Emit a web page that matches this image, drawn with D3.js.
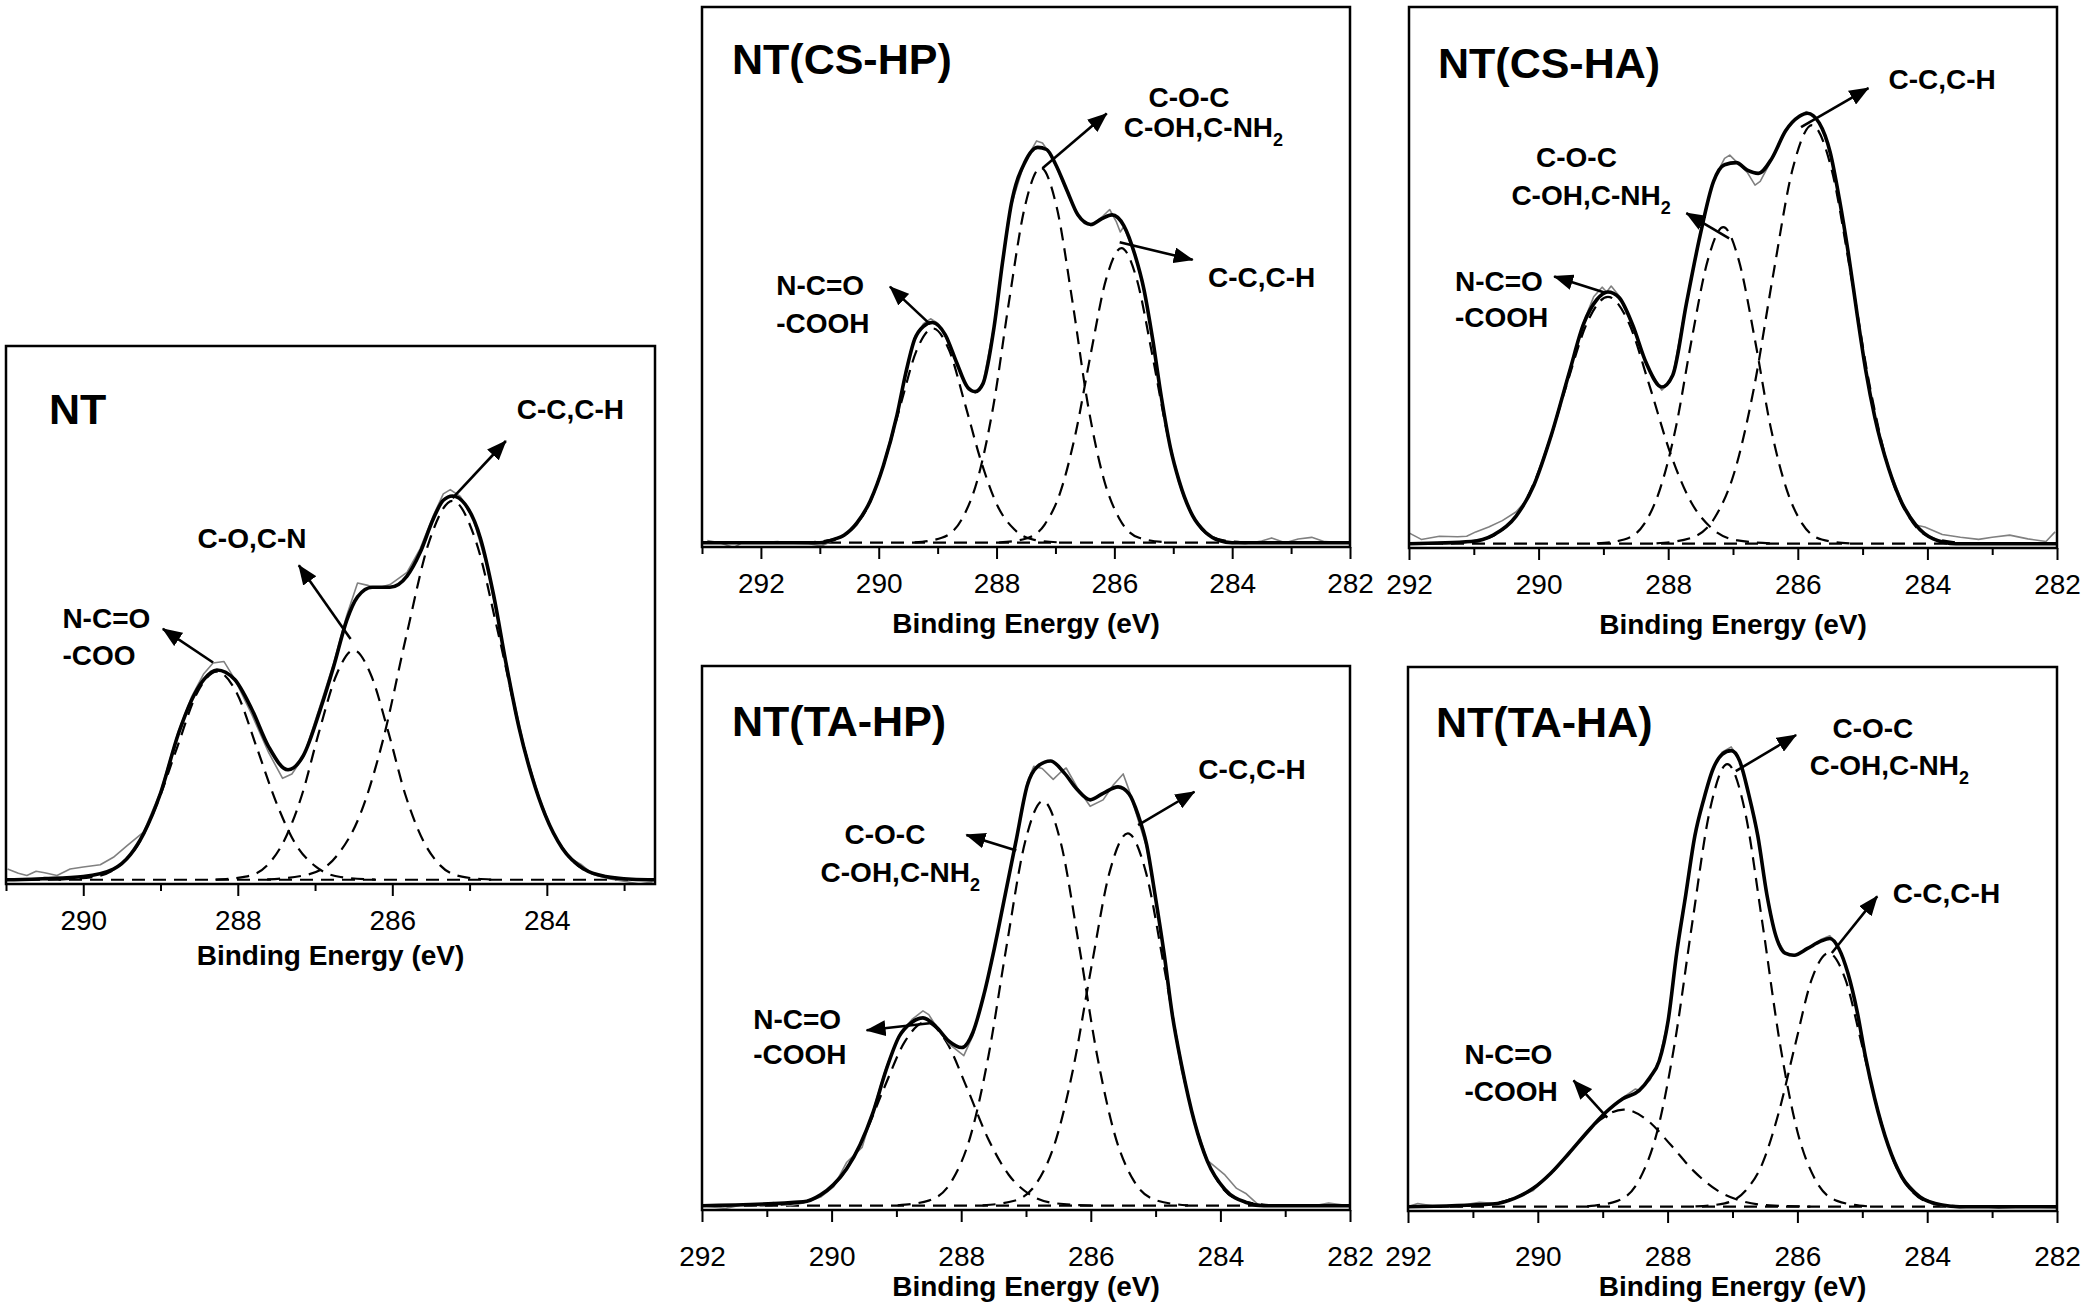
<!DOCTYPE html>
<html><head><meta charset="utf-8">
<script src="https://cdn.jsdelivr.net/npm/d3@7"></script>
<style>
html,body{margin:0;padding:0;background:#fff;}
svg{display:block;}
text{font-family:"Liberation Sans",Arial,Helvetica,sans-serif;fill:#000;}
</style></head><body>
<svg id="chart" width="2085" height="1306"></svg>
<script>
// ---------- DATA (binding energy in eV, intensity in % of panel height) ----------
const panelTitles = ["NT", "NT(CS-HP)", "NT(CS-HA)", "NT(TA-HP)", "NT(TA-HA)"];
const axisTitle = "Binding Energy (eV)";
const ticksNT = [290, 288, 286, 284];
const minorNT = [291, 289, 287, 285, 283];
const ticksWide = [292, 290, 288, 286, 284, 282];
const minorCSHP = [293, 291, 289, 287, 285, 283];
const minorWide = [291, 289, 287, 285, 283];

// NT
const NT_fit = [[291,0],[290.98,0],[290.5,0.2],[290.0,0.6],[289.61,2.0],[289.39,4.7],[289.22,8.6],[289.0,16.2],[288.77,27.3],[288.6,33.6],[288.44,37.5],[288.27,39.3],[288.04,37.5],[287.82,32.0],[287.6,24.9],[287.35,20.6],[287.15,23.3],[286.93,32.0],[286.76,39.9],[286.59,48.6],[286.45,53.0],[286.26,54.8],[286.03,54.8],[285.81,56.9],[285.64,61.3],[285.47,67.6],[285.34,71.1],[285.22,71.9],[285.06,70.4],[284.86,64.0],[284.69,53.4],[284.53,40.7],[284.36,28.5],[284.19,19.2],[284.02,12.1],[283.8,5.9],[283.52,2.0],[283.24,0.6],[282.9,0.1],[282.6,0]];
const NT_raw = [[290.98,2.0],[290.84,1.2],[290.73,0.8],[290.61,1.6],[290.5,1.3],[290.34,0.8],[290.17,2.0],[290.0,2.4],[289.78,2.8],[289.61,4.2],[289.44,6.3],[289.22,8.9],[289.0,16.5],[288.77,27.8],[288.6,34.2],[288.44,38.6],[288.32,40.6],[288.18,40.9],[288.04,37.6],[287.82,31.0],[287.6,23.8],[287.42,19.0],[287.3,19.8],[287.15,23.0],[286.93,32.8],[286.76,40.5],[286.59,49.5],[286.45,55.6],[286.33,55.2],[286.2,54.6],[286.03,55.3],[285.81,57.6],[285.64,62.0],[285.47,68.2],[285.34,72.3],[285.25,73.1],[285.12,71.8],[284.95,67.5],[284.78,59.0],[284.61,47.0],[284.44,34.5],[284.27,23.5],[284.1,15.5],[283.92,8.8],[283.72,4.2],[283.55,2.8],[283.4,1.0],[283.2,0.2],[283.0,-0.3],[282.8,-0.8],[282.63,-0.4]];
const NT_p1 = [[286.22,0.03],[286.67,0.51],[286.99,2.44],[287.25,6.63],[287.5,14.4],[287.76,25.0],[288.01,34.9],[288.27,39],[288.53,34.9],[288.78,25.0],[289.04,14.4],[289.29,6.63],[289.55,2.44],[289.87,0.51],[290.32,0.03]];
const NT_p2 = [[284.71,0.03],[285.1,0.57],[285.38,2.69],[285.6,7.31],[285.83,15.87],[286.05,27.6],[286.28,38.5],[286.5,43],[286.72,38.5],[286.95,27.6],[287.17,15.87],[287.4,7.31],[287.62,2.69],[287.9,0.57],[288.29,0.03]];
const NT_p3 = [[282.82,0.06],[283.35,0.94],[283.72,4.44],[284.02,12.07],[284.32,26.2],[284.62,45.6],[284.92,63.5],[285.22,71],[285.52,63.5],[285.82,45.6],[286.12,26.2],[286.42,12.07],[286.72,4.44],[287.1,0.94],[287.62,0.06]];
const NT_labels = [{lines:["C-C,C-H"], e:284.39, v:[86.3]}, {lines:["C-O,C-N"], e:288.52, v:[62.2]}, {lines:["N-C=O","-COO"], e:290.27, v:[47.2,40.3]}];
const NT_arrows = [[[285.22,71.5],[284.53,82.2]], [[286.54,45.1],[287.21,58.9]], [[288.32,40.7],[288.97,47.0]]];

// NT(CS-HP)
const CSHP_fit = [[293,0],[291.0,0],[290.74,0.7],[290.59,1.4],[290.37,3.7],[290.14,7.9],[289.92,14.4],[289.69,23.8],[289.54,31.7],[289.39,38.0],[289.24,40.4],[289.09,41.1],[288.87,38.8],[288.68,33.7],[288.49,29.0],[288.36,28.2],[288.23,29.7],[288.04,40.4],[287.9,52.2],[287.75,63.2],[287.52,71.0],[287.3,73.8],[287.15,73.4],[287.0,70.7],[286.81,65.9],[286.62,61.2],[286.4,59.4],[286.21,60.5],[286.04,61.2],[285.84,59.2],[285.65,53.7],[285.5,47.4],[285.35,38.0],[285.2,27.0],[285.05,17.8],[284.9,11.5],[284.67,5.0],[284.45,1.9],[284.22,0.4],[284.0,0],[282,0]];
const CSHP_raw = [[292.91,0.4],[292.7,0.0],[292.46,-0.9],[292.3,0.1],[292.01,0.0],[291.72,0.2],[291.45,-0.1],[291.19,-0.2],[290.97,-0.6],[290.74,0.6],[290.59,1.2],[290.37,3.3],[290.14,7.6],[289.92,14.6],[289.69,24.0],[289.54,32.0],[289.39,38.3],[289.24,40.9],[289.12,41.8],[289.0,41.0],[288.87,38.6],[288.68,33.5],[288.49,28.6],[288.36,28.0],[288.23,29.8],[288.04,40.6],[287.9,52.4],[287.75,63.0],[287.52,71.2],[287.32,75.0],[287.22,74.6],[287.15,73.5],[287.0,70.5],[286.81,65.6],[286.62,61.0],[286.4,59.2],[286.21,60.8],[286.08,62.2],[285.97,60.0],[285.9,58.0],[285.84,59.0],[285.65,53.6],[285.5,47.2],[285.35,38.0],[285.2,27.2],[285.05,17.6],[284.9,11.0],[284.67,5.0],[284.45,1.8],[284.22,0.4],[284.0,0.0],[283.78,-0.2],[283.5,0.3],[283.33,0.9],[283.1,0.0],[282.88,0.7],[282.65,1.0],[282.43,0.2],[282.2,0.1],[282.0,0.0]];
const CSHP_p1 = [[286.87,0.03],[287.36,0.53],[287.7,2.5],[287.98,6.8],[288.25,14.76],[288.53,25.68],[288.8,35.8],[289.08,40],[289.36,35.8],[289.63,25.68],[289.91,14.76],[290.18,6.8],[290.46,2.5],[290.81,0.53],[291.29,0.03]];
const CSHP_p2 = [[285.11,0.06],[285.58,0.92],[285.91,4.38],[286.18,11.9],[286.45,25.8],[286.71,44.9],[286.98,62.7],[287.25,70],[287.52,62.7],[287.79,44.9],[288.05,25.8],[288.32,11.9],[288.59,4.38],[288.93,0.92],[289.39,0.06]];
const CSHP_p3 = [[283.8,0.04],[284.26,0.73],[284.58,3.44],[284.84,9.35],[285.1,20.3],[285.36,35.3],[285.62,49.2],[285.88,55],[286.14,49.2],[286.4,35.3],[286.66,20.3],[286.92,9.35],[287.18,3.44],[287.51,0.73],[287.96,0.04]];
const CSHP_labels = [{lines:["C-O-C","C-OH,C-NH_2"], e:[285.42,285.84], v:[81.3,75.8]}, {lines:["C-C,C-H"], e:284.41, v:[47.8]}, {lines:["N-C=O","-COOH"], e:291.74, v:[46.3,39.2]}];
const CSHP_arrows = [[[287.22,69.9],[286.13,80.1]], [[285.91,56.1],[284.67,52.8]], [[289.13,40.8],[289.81,47.8]]];

// NT(CS-HA)
const CSHA_fit = [[292,0],[291.04,0.4],[290.7,1.6],[290.35,5.1],[290.07,11.0],[289.8,20.4],[289.52,32.2],[289.31,40.8],[289.1,45.5],[288.93,46.9],[288.76,45.9],[288.55,40.8],[288.34,33.7],[288.1,29.2],[287.93,31.4],[287.72,44.7],[287.51,57.3],[287.3,67.5],[287.13,70.6],[286.95,71.0],[286.78,69.6],[286.61,69.0],[286.4,71.8],[286.19,76.9],[285.98,79.6],[285.85,80.2],[285.67,78.4],[285.5,72.9],[285.36,64.3],[285.22,54.1],[285.08,42.4],[284.95,32.2],[284.81,23.5],[284.6,14.1],[284.39,7.5],[284.18,3.5],[283.91,0.9],[283.56,0],[282,0]];
const CSHA_raw = [[292.0,2.0],[291.81,0.8],[291.53,1.4],[291.25,1.3],[291.11,1.4],[290.97,2.2],[290.77,3.1],[290.56,4.3],[290.35,5.9],[290.18,8.2],[290.07,11.2],[289.8,20.6],[289.52,32.5],[289.31,41.2],[289.15,46.0],[289.02,47.8],[288.95,46.9],[288.88,48.0],[288.76,46.2],[288.55,40.6],[288.34,33.4],[288.1,28.6],[287.98,30.0],[287.93,31.2],[287.72,45.0],[287.51,57.5],[287.3,67.8],[287.13,71.8],[287.05,72.4],[286.95,71.2],[286.78,69.2],[286.66,66.8],[286.58,67.5],[286.4,71.6],[286.19,77.0],[285.98,79.8],[285.87,80.5],[285.67,78.6],[285.5,73.0],[285.36,64.4],[285.22,54.2],[285.08,42.5],[284.95,32.3],[284.81,23.6],[284.6,14.2],[284.39,7.8],[284.18,3.5],[284.04,3.1],[283.77,1.7],[283.49,1.2],[283.21,0.8],[283.0,1.2],[282.73,1.6],[282.45,0.9],[282.17,0.4],[282.03,2.2]];
const CSHA_p1 = [[286.37,0.04],[286.93,0.61],[287.33,2.88],[287.65,7.82],[287.97,16.97],[288.29,29.5],[288.61,41.2],[288.93,46],[289.25,41.2],[289.57,29.5],[289.89,16.97],[290.21,7.82],[290.53,2.88],[290.93,0.61],[291.49,0.04]];
const CSHA_p2 = [[285.2,0.05],[285.63,0.78],[285.93,3.69],[286.17,10.03],[286.42,21.77],[286.66,37.9],[286.91,52.8],[287.15,59],[287.39,52.8],[287.64,37.9],[287.88,21.77],[288.13,10.03],[288.37,3.69],[288.68,0.78],[289.1,0.05]];
const CSHA_p3 = [[283.38,0.06],[283.91,1.03],[284.28,4.88],[284.58,13.26],[284.88,28.8],[285.18,50.1],[285.48,69.8],[285.78,78],[286.08,69.8],[286.38,50.1],[286.68,28.8],[286.98,13.26],[287.28,4.88],[287.66,1.03],[288.18,0.06]];
const CSHA_labels = [{lines:["C-C,C-H"], e:284.60, v:[84.7]}, {lines:["C-O-C","C-OH,C-NH_2"], e:[290.04,290.42], v:[70.2,63.1]}, {lines:["N-C=O","-COOH"], e:291.29, v:[47.1,40.4]}];
const CSHA_arrows = [[[285.95,77.6],[284.91,84.9]], [[287.06,56.9],[287.72,61.6]], [[288.96,46.7],[289.76,49.8]]];

// NT(TA-HP)
const TAHP_fit = [[292,0],[290.44,0.7],[290.17,2.0],[289.97,3.9],[289.77,6.8],[289.56,11.3],[289.36,17.3],[289.16,25.1],[288.96,31.3],[288.76,34.0],[288.59,34.8],[288.39,33.2],[288.19,30.5],[287.99,29.3],[287.82,32.1],[287.65,39.1],[287.49,47.6],[287.32,57.7],[287.15,67.8],[286.98,77.9],[286.82,81.4],[286.62,82.4],[286.41,80.2],[286.21,77.1],[286.01,75.2],[285.81,76.4],[285.58,77.6],[285.41,76.3],[285.27,72.4],[285.14,67.0],[285.01,57.7],[284.87,46.8],[284.74,35.2],[284.6,26.1],[284.4,15.5],[284.2,8.2],[283.93,3.0],[283.6,0.6],[283.33,0],[282,0]];
const TAHP_raw = [[292.01,0.0],[291.64,-0.5],[291.37,0.2],[291.1,0.0],[290.9,0.6],[290.64,0.0],[290.44,0.5],[290.17,1.6],[289.97,3.5],[289.77,8.0],[289.53,10.8],[289.36,17.6],[289.16,25.6],[288.96,31.6],[288.76,34.5],[288.59,36.1],[288.5,35.4],[288.39,33.3],[288.19,30.0],[287.96,27.8],[287.82,31.5],[287.65,39.0],[287.49,47.5],[287.32,57.6],[287.15,67.6],[286.98,78.5],[286.88,81.4],[286.75,81.0],[286.58,79.0],[286.45,80.5],[286.38,81.1],[286.21,77.5],[286.01,74.0],[285.81,75.2],[285.65,78.0],[285.5,80.0],[285.41,77.0],[285.27,71.5],[285.14,66.5],[285.01,57.5],[284.87,46.8],[284.74,35.0],[284.6,25.0],[284.4,15.6],[284.2,8.4],[283.93,5.7],[283.75,3.2],[283.6,2.2],[283.4,0.0],[283.0,0.1],[282.6,-0.1],[282.33,0.5],[282.01,0.0]];
const TAHP_p1 = [[285.99,0.03],[286.55,0.45],[286.95,2.13],[287.27,5.78],[287.59,12.55],[287.91,21.8],[288.23,30.4],[288.55,34],[288.87,30.4],[289.19,21.8],[289.51,12.55],[289.83,5.78],[290.15,2.13],[290.55,0.45],[291.11,0.03]];
const TAHP_p2 = [[284.5,0.06],[284.99,0.99],[285.34,4.69],[285.62,12.75],[285.9,27.7],[286.18,48.1],[286.46,67.1],[286.74,75],[287.02,67.1],[287.3,48.1],[287.58,27.7],[287.86,12.75],[288.14,4.69],[288.49,0.99],[288.98,0.06]];
const TAHP_p3 = [[283.19,0.06],[283.68,0.91],[284.03,4.31],[284.31,11.73],[284.59,25.5],[284.87,44.3],[285.15,61.8],[285.43,69],[285.71,61.8],[285.99,44.3],[286.27,25.5],[286.55,11.73],[286.83,4.31],[287.18,0.91],[287.67,0.06]];
const TAHP_labels = [{lines:["C-C,C-H"], e:284.34, v:[79.0]}, {lines:["C-O-C","C-OH,C-NH_2"], e:[289.80,290.17], v:[67.0,60.0]}, {lines:["N-C=O","-COOH"], e:291.21, v:[32.8,26.2]}];
const TAHP_arrows = [[[285.27,70.5],[284.40,76.7]], [[287.15,65.8],[287.92,68.7]], [[288.49,33.8],[289.46,32.5]]];

// NT(TA-HA)
const TAHA_fit = [[292,0],[290.7,0.5],[290.35,1.6],[290.07,3.4],[289.8,6.2],[289.52,9.9],[289.24,13.8],[288.96,17.4],[288.69,20.0],[288.44,21.5],[288.27,24.0],[288.13,27.0],[287.99,34.6],[287.86,47.0],[287.72,57.8],[287.58,68.7],[287.44,75.6],[287.3,81.1],[287.16,83.8],[287.02,84.5],[286.89,82.6],[286.75,76.4],[286.61,68.7],[286.47,57.8],[286.33,50.1],[286.19,47.0],[286.05,46.6],[285.85,47.8],[285.64,49.2],[285.5,49.7],[285.36,47.8],[285.22,43.2],[285.08,36.2],[284.95,27.7],[284.81,20.1],[284.6,11.3],[284.39,5.5],[284.11,1.8],[283.77,0.3],[283.5,0],[282,0]];
const TAHA_raw = [[292.0,0.0],[291.85,0.6],[291.6,0.1],[291.2,0.2],[290.9,0.8],[290.63,0.6],[290.35,1.6],[290.07,3.0],[289.8,6.2],[289.52,10.0],[289.24,14.0],[288.96,17.3],[288.69,20.2],[288.5,21.8],[288.44,21.6],[288.27,23.5],[288.13,27.2],[287.99,34.8],[287.86,47.0],[287.72,57.8],[287.58,68.7],[287.44,75.8],[287.3,81.3],[287.16,84.2],[287.02,85.2],[286.89,82.8],[286.75,76.4],[286.61,68.5],[286.47,57.8],[286.33,50.0],[286.19,47.0],[286.05,46.4],[285.85,47.8],[285.64,49.5],[285.5,50.2],[285.36,48.0],[285.22,43.2],[285.08,36.2],[284.95,27.7],[284.81,20.1],[284.6,11.3],[284.39,5.5],[284.11,1.8],[283.77,0.1],[283.5,-0.2],[283.2,0.1],[282.9,-0.3],[282.5,0.0],[282.0,-0.2]];
const TAHA_p1 = [[285.8,0.01],[286.43,0.24],[286.88,1.13],[287.24,3.06],[287.6,6.64],[287.96,11.56],[288.32,16.1],[288.68,18],[289.04,16.1],[289.4,11.56],[289.76,6.64],[290.12,3.06],[290.48,1.13],[290.93,0.24],[291.56,0.01]];
const TAHA_p2 = [[284.92,0.07],[285.39,1.08],[285.73,5.13],[286.0,13.94],[286.27,30.3],[286.54,52.6],[286.81,73.4],[287.08,82],[287.35,73.4],[287.62,52.6],[287.89,30.3],[288.16,13.94],[288.43,5.13],[288.77,1.08],[289.24,0.07]];
const TAHA_p3 = [[283.47,0.04],[283.92,0.62],[284.24,2.94],[284.5,7.99],[284.75,17.34],[285.01,30.2],[285.26,42.1],[285.52,47],[285.78,42.1],[286.03,30.2],[286.29,17.34],[286.54,7.99],[286.8,2.94],[287.12,0.62],[287.57,0.04]];
const TAHA_labels = [{lines:["C-O-C","C-OH,C-NH_2"], e:[285.46,285.81], v:[86.9,79.9]}, {lines:["C-C,C-H"], e:284.53, v:[56.3]}, {lines:["N-C=O","-COOH"], e:291.13, v:[26.5,19.6]}];
const TAHA_arrows = [[[286.95,80.7],[286.02,87.4]], [[285.47,47.0],[284.77,57.5]], [[288.93,16.5],[289.45,23.4]]];

// ---------- LAYOUT ----------
const panels = [
  {title:panelTitles[0], domain:[291,282.6], majors:ticksNT, minors:minorNT, fit:NT_fit, raw:NT_raw, peaks:[NT_p1,NT_p2,NT_p3], labels:NT_labels, arrows:NT_arrows,
   box:{x0:6,x1:655,top:346,axis:884}, tdx:43, tdy:78, pad:14, ttl:81},
  {title:panelTitles[1], domain:[293,282], majors:ticksWide, minors:minorCSHP, fit:CSHP_fit, raw:CSHP_raw, peaks:[CSHP_p1,CSHP_p2,CSHP_p3], labels:CSHP_labels, arrows:CSHP_arrows,
   box:{x0:702,x1:1350,top:7,axis:547}, tdx:30, tdy:67, pad:14, ttl:86},
  {title:panelTitles[2], domain:[292,282], majors:ticksWide, minors:minorWide, fit:CSHA_fit, raw:CSHA_raw, peaks:[CSHA_p1,CSHA_p2,CSHA_p3], labels:CSHA_labels, arrows:CSHA_arrows,
   box:{x0:1409,x1:2057,top:7,axis:548}, tdx:29, tdy:71, pad:14, ttl:86},
  {title:panelTitles[3], domain:[292,282], majors:ticksWide, minors:minorWide, fit:TAHP_fit, raw:TAHP_raw, peaks:[TAHP_p1,TAHP_p2,TAHP_p3], labels:TAHP_labels, arrows:TAHP_arrows,
   box:{x0:702,x1:1350,top:666,axis:1210}, tdx:30, tdy:70, pad:24, ttl:86},
  {title:panelTitles[4], domain:[292,282], majors:ticksWide, minors:minorWide, fit:TAHA_fit, raw:TAHA_raw, peaks:[TAHA_p1,TAHA_p2,TAHA_p3], labels:TAHA_labels, arrows:TAHA_arrows,
   box:{x0:1408,x1:2057,top:667,axis:1211}, tdx:28, tdy:70, pad:23, ttl:85}
];

const FONT = '"Liberation Sans",Arial,Helvetica,sans-serif';
const svg = d3.select("#chart");
svg.append("rect").attr("width",2085).attr("height",1306).attr("fill","#fff");
const defs = svg.append("defs");
defs.append("marker").attr("id","ah").attr("viewBox","0 0 20 16").attr("refX",19).attr("refY",8)
  .attr("markerWidth",20).attr("markerHeight",16).attr("markerUnits","userSpaceOnUse").attr("orient","auto")
  .append("path").attr("d","M0,0L20,8L0,16Z").attr("fill","#000");

const byEnergy = a => a.slice().sort((m,n) => n[0]-m[0]);

panels.forEach((p, i) => {
  const b = p.box;
  const x = d3.scaleLinear().domain(p.domain).range([b.x0, b.x1]);
  const y = d3.scaleLinear().domain([-0.8, 100]).range([b.axis, b.top]);
  const g = svg.append("g");
  const cid = "clip" + i;
  defs.append("clipPath").attr("id", cid).append("rect")
    .attr("x", b.x0).attr("y", b.top).attr("width", b.x1-b.x0).attr("height", b.axis-b.top);

  const smooth = d3.line().x(d => x(d[0])).y(d => y(d[1])).curve(d3.curveMonotoneX);
  const jag = d3.line().x(d => x(d[0])).y(d => y(d[1]));
  const plot = g.append("g").attr("clip-path", `url(#${cid})`);

  // dashed baseline and fitted components
  plot.append("path").datum(p.domain.map(e => [e, 0])).attr("d", jag)
    .attr("fill","none").attr("stroke","#000").attr("stroke-width",2.2).attr("stroke-dasharray","13,8");
  p.peaks.forEach(pk => {
    plot.append("path").datum(byEnergy(pk)).attr("d", smooth)
      .attr("fill","none").attr("stroke","#000").attr("stroke-width",2.2).attr("stroke-dasharray","13,8");
  });
  // raw spectrum
  plot.append("path").datum(byEnergy(p.raw)).attr("d", jag)
    .attr("fill","none").attr("stroke","#808080").attr("stroke-width",1.6).attr("stroke-linejoin","round");
  // envelope
  plot.append("path").datum(byEnergy(p.fit)).attr("d", smooth)
    .attr("fill","none").attr("stroke","#000").attr("stroke-width",3.6).attr("stroke-linejoin","round");

  // frame
  g.append("rect").attr("x", b.x0).attr("y", b.top).attr("width", b.x1-b.x0).attr("height", b.axis-b.top)
    .attr("fill","none").attr("stroke","#000").attr("stroke-width",2.5);

  // axes
  const ax = g.append("g").attr("transform", `translate(0,${b.axis})`)
    .call(d3.axisBottom(x).tickValues(p.majors).tickSize(12).tickPadding(p.pad).tickFormat(d3.format("d")));
  ax.attr("font-size", 28).attr("font-family", FONT);
  ax.select(".domain").remove();
  ax.selectAll("line").attr("stroke","#000").attr("stroke-width",2);
  ax.selectAll("text").attr("fill","#000").attr("font-size",28);
  const axm = g.append("g").attr("transform", `translate(0,${b.axis})`)
    .call(d3.axisBottom(x).tickValues(p.minors).tickSize(7).tickFormat(""));
  axm.select(".domain").remove();
  axm.selectAll("line").attr("stroke","#000").attr("stroke-width",2);

  g.append("text").attr("x", (b.x0+b.x1)/2).attr("y", b.axis+p.ttl).attr("text-anchor","middle")
    .attr("font-size",28).attr("font-weight","bold").text(axisTitle);

  // panel title
  g.append("text").attr("x", b.x0+p.tdx).attr("y", b.top+p.tdy)
    .attr("font-size",43).attr("font-weight","bold").text(p.title);

  // annotations
  p.labels.forEach(lb => {
    lb.lines.forEach((ln, k) => {
      const e = Array.isArray(lb.e) ? lb.e[k] : lb.e;
      const t = g.append("text").attr("x", x(e)).attr("y", y(lb.v[k]))
        .attr("font-size",28).attr("font-weight","bold");
      const parts = ln.split("_");
      t.append("tspan").text(parts[0]);
      if (parts.length > 1) {
        t.append("tspan").attr("font-size",18).attr("dy",9).text(parts[1]);
      }
    });
  });
  p.arrows.forEach(a => {
    g.append("path").datum(a).attr("d", jag).attr("fill","none").attr("stroke","#000")
      .attr("stroke-width",2.6).attr("marker-end","url(#ah)");
  });
});
</script>
</body></html>
